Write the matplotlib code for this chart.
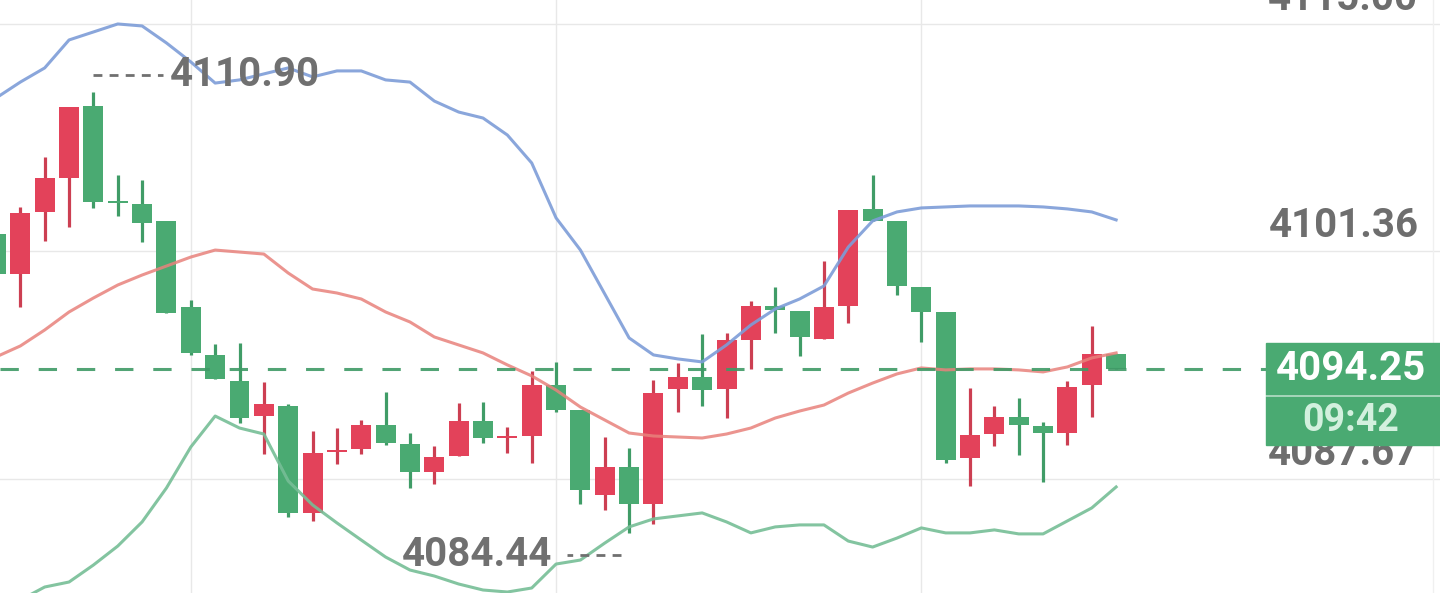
import matplotlib
matplotlib.use("Agg")
import matplotlib.pyplot as plt
from matplotlib import font_manager
from matplotlib.patches import Rectangle
from matplotlib.transforms import offset_copy, blended_transform_factory

# candle data (price), red = up, green = down
opens = [4102.38, 4099.98, 4103.70, 4105.75, 4110.07, 4104.30, 4104.18, 4103.16, 4098.00, 4095.11,
         4093.55, 4091.45, 4092.05, 4085.62, 4089.29, 4089.47, 4090.91, 4089.77, 4088.09, 4089.05,
         4091.15, 4090.13, 4090.25, 4093.31, 4091.81, 4086.70, 4088.39, 4086.16, 4093.07, 4093.79,
         4093.07, 4096.01, 4098.06, 4097.76, 4096.07, 4098.06, 4103.88, 4103.16, 4099.20, 4097.70,
         4088.93, 4090.37, 4091.39, 4090.85, 4090.43, 4093.31, 4095.17]
highs = [4102.68, 4104.00, 4107.01, 4110.01, 4110.90, 4105.93, 4105.62, 4103.16, 4098.42, 4095.77,
         4095.83, 4093.49, 4092.17, 4090.55, 4090.73, 4091.21, 4092.89, 4090.43, 4089.65, 4092.23,
         4092.29, 4090.79, 4094.15, 4094.69, 4091.81, 4090.19, 4089.53, 4093.61, 4094.63, 4096.37,
         4096.43, 4098.36, 4099.20, 4097.76, 4100.76, 4103.82, 4105.93, 4103.16, 4099.20, 4097.70,
         4093.13, 4092.05, 4092.53, 4091.09, 4093.55, 4096.85, 4095.17]
lows = [4099.68, 4098.00, 4101.96, 4102.80, 4103.94, 4103.46, 4101.90, 4097.64, 4095.11, 4093.67,
        4091.03, 4089.17, 4085.38, 4085.14, 4088.57, 4089.17, 4089.71, 4087.12, 4087.36, 4089.05,
        4089.83, 4089.23, 4088.63, 4091.69, 4086.16, 4085.80, 4084.44, 4084.96, 4091.69, 4092.05,
        4091.33, 4094.27, 4096.43, 4095.05, 4096.07, 4097.03, 4103.16, 4098.72, 4095.89, 4088.63,
        4087.24, 4089.65, 4089.11, 4087.48, 4089.71, 4091.39, 4094.25]
closes = [4099.98, 4103.64, 4105.75, 4110.01, 4104.30, 4104.24, 4103.04, 4097.64, 4095.23, 4093.67,
          4091.33, 4092.17, 4085.62, 4089.23, 4089.41, 4090.91, 4089.83, 4088.09, 4088.99, 4091.15,
          4090.13, 4090.25, 4093.31, 4091.81, 4087.00, 4088.39, 4086.16, 4092.83, 4093.79, 4093.01,
          4096.01, 4098.06, 4097.82, 4096.19, 4098.00, 4103.82, 4103.16, 4099.26, 4097.70, 4088.81,
          4090.31, 4091.39, 4090.91, 4090.43, 4093.19, 4095.17, 4094.25]

# bollinger bands
upper = [4110.55, 4111.51, 4112.36, 4114.04, 4114.52, 4115.00, 4114.88, 4113.86, 4112.72, 4111.45,
         4111.64, 4112.00, 4112.36, 4111.82, 4112.18, 4112.18, 4111.64, 4111.51, 4110.37, 4109.71,
         4109.35, 4108.33, 4106.65, 4103.35, 4101.42, 4098.78, 4096.14, 4095.12, 4094.88, 4094.70,
         4095.72, 4096.92, 4097.88, 4098.48, 4099.26, 4101.60, 4103.17, 4103.71, 4103.95, 4104.01,
         4104.07, 4104.07, 4104.07, 4104.01, 4103.89, 4103.71, 4103.23]
middle = [4095.00, 4095.66, 4096.62, 4097.70, 4098.54, 4099.32, 4099.92, 4100.46, 4101.00, 4101.42,
          4101.30, 4101.18, 4100.04, 4099.08, 4098.84, 4098.48, 4097.70, 4097.10, 4096.20, 4095.72,
          4095.24, 4094.52, 4093.86, 4093.01, 4091.99, 4091.21, 4090.43, 4090.25, 4090.19, 4090.13,
          4090.37, 4090.73, 4091.33, 4091.75, 4092.11, 4092.83, 4093.43, 4093.98, 4094.34, 4094.22,
          4094.28, 4094.28, 4094.22, 4094.10, 4094.40, 4094.94, 4095.24]
lower = [4079.68, 4080.40, 4081.18, 4081.48, 4082.50, 4083.64, 4085.09, 4087.13, 4089.59, 4091.45,
         4090.73, 4090.37, 4087.55, 4086.11, 4085.03, 4084.00, 4082.98, 4082.20, 4081.84, 4081.36,
         4081.00, 4080.88, 4081.12, 4082.56, 4082.80, 4083.82, 4084.79, 4085.27, 4085.45, 4085.63,
         4085.09, 4084.43, 4084.79, 4084.91, 4084.91, 4083.94, 4083.58, 4084.12, 4084.73, 4084.43,
         4084.43, 4084.61, 4084.37, 4084.37, 4085.15, 4085.93, 4087.19]

price_ticks = [4115.00, 4101.36, 4087.67]
time_ticks = [8, 23, 38]
high_label = "4110.90"
low_label = "4084.44"
last_price = "4094.25"
countdown = "09:42"

RED = "#e3425a"
RED_WICK = "#cc3f52"
GREEN = "#4aaa72"
GREEN_WICK = "#409c67"

names = {f.name for f in font_manager.fontManager.ttflist}
lab_font = "Roboto" if "Roboto" in names else "Liberation Sans"
FS = 29

fig = plt.figure(figsize=(14.4, 5.93), dpi=100)
ax = fig.add_axes([0, 0, 1, 1])
ymin, ymax = 4080.82, 4116.44
ax.set_xlim(0.164, 59.3)
ax.set_ylim(ymin, ymax)
ax.axis("off")
px = (ymax - ymin) / 593.0

# grid
for v in price_ticks:
    ax.axhline(v, color="#e8e8e8", lw=1.0, zorder=0)
for t in time_ticks:
    ax.axvline(t, color="#e8e8e8", lw=1.0, zorder=0)
ax.axvline(59.0, color="#f0f0f0", lw=1.0, zorder=0)

# candles
xs = list(range(len(opens)))
for i in xs:
    o, h, l, c = opens[i], highs[i], lows[i], closes[i]
    up = c > o
    col = RED if up else GREEN
    wcol = RED_WICK if up else GREEN_WICK
    ax.vlines(i, l, h, color=wcol, lw=2.3, zorder=2)
    ax.bar(i, max(abs(c - o), 0.1), bottom=min(o, c), width=0.82, color=col, zorder=3)

# bands
ax.plot(xs, upper, color="#7d9dd8", lw=2.2, alpha=0.9, zorder=4)
ax.plot(xs, middle, color="#e8827c", lw=2.2, alpha=0.85, zorder=4)
ax.plot(xs, lower, color="#76be96", lw=2.2, alpha=0.9, zorder=4)

# current price line
cur = closes[-1]
ax.axhline(cur, color="#3f9a66", lw=2.2, ls=(0, (6, 6.5)), alpha=0.9, zorder=5)

# right axis labels
tr = blended_transform_factory(ax.transAxes, ax.transData)
for v in price_ticks:
    ax.text(0.985, v, f"{v:.2f}", transform=offset_copy(tr, fig, y=25, units="dots"),
            ha="right", va="center", fontsize=FS, fontweight="bold", color="#6e6e6e",
            family=lab_font, zorder=6)

# high / low markers
hi_i = highs.index(max(highs))
lo_i = lows.index(min(lows))
gray = "#707070"
up_tr = offset_copy(ax.transData, fig, y=17, units="dots")
ax.plot([hi_i, hi_i + 2.85], [highs[hi_i]] * 2, transform=up_tr, color=gray, lw=2.0,
        ls=(0, (3.2, 2.6)), zorder=6)
ax.text(hi_i + 3.15, highs[hi_i], high_label, transform=up_tr, ha="left", va="center",
        fontsize=FS, fontweight="bold", color=gray, family=lab_font, zorder=6)
dn_tr = offset_copy(ax.transData, fig, y=-22, units="dots")
ax.plot([lo_i - 0.35, lo_i - 2.55], [lows[lo_i]] * 2, transform=dn_tr, color=gray, lw=2.0,
        ls=(0, (3.2, 2.6)), zorder=6)
ax.text(lo_i - 3.15, lows[lo_i], low_label, transform=dn_tr, ha="right", va="center",
        fontsize=FS, fontweight="bold", color=gray, family=lab_font, zorder=6)

# price box
ax.add_patch(Rectangle((1266 / 1440, cur - 76 * px), 1 - 1266 / 1440, 102 * px,
                       transform=tr, color="#4aaa72", zorder=7))
ax.plot([1266 / 1440, 1.0], [cur - 27 * px] * 2, transform=tr, color="white", lw=1.2,
        alpha=0.6, zorder=8)
ax.text(1351 / 1440, cur, last_price, transform=tr, ha="center", va="center", fontsize=FS,
        fontweight="bold", color="white", family=lab_font, zorder=9)
ax.text(1351 / 1440, cur - 51 * px, countdown, transform=tr, ha="center", va="center",
        fontsize=27, color="#d3f0de", family=lab_font, fontweight="bold", zorder=9)

fig.savefig("out.png", dpi=100, facecolor="white")
